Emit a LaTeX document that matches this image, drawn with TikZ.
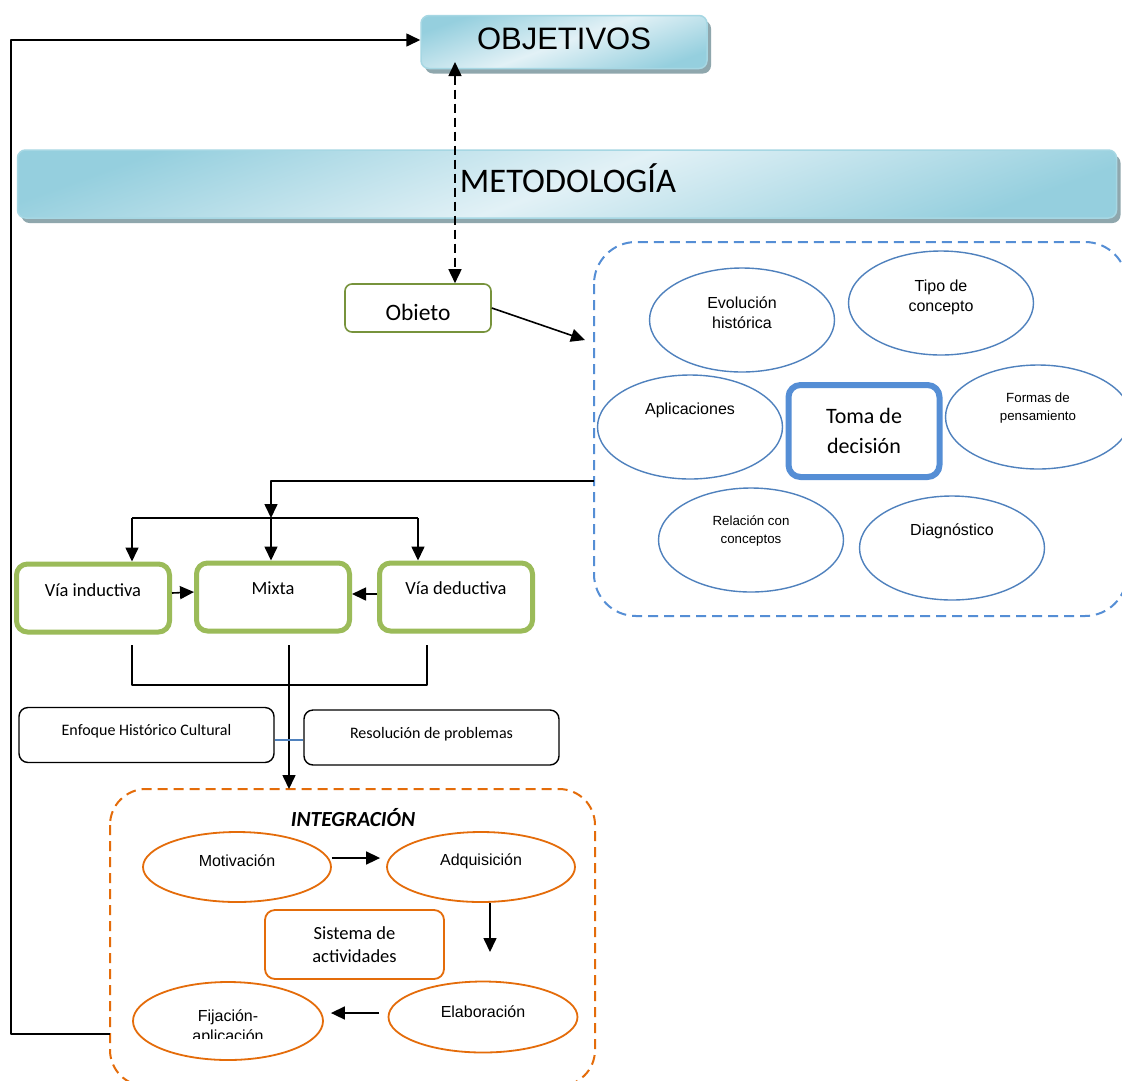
\documentclass[tikz,border=0pt]{standalone}
\usepackage{fontspec}
\setmainfont{Liberation Sans}
\newfontfamily\calfont{Carlito}
\usetikzlibrary{shapes.geometric,arrows.meta,calc,shadows}
\definecolor{ellblue}{HTML}{4F81BD}
\definecolor{boxblue}{HTML}{558ED5}
\definecolor{olivegreen}{HTML}{77933C}
\definecolor{leafgreen}{HTML}{9BBB59}
\definecolor{integorange}{HTML}{E46C0A}
\definecolor{bandlight}{HTML}{E2F1F6}
\definecolor{banddark}{HTML}{95CFDE}
\definecolor{bandedge}{HTML}{A6D7E3}
\definecolor{bandshadow}{HTML}{8FA7AD}
\definecolor{linkblue}{HTML}{4F81BD}
\tikzset{
  banner/.style={rounded corners=8pt, draw=bandedge, line width=1.5pt,
    shading=axis, top color=banddark, bottom color=banddark, middle color=bandlight,
    shading angle=20,
    drop shadow={shadow xshift=4pt, shadow yshift=-5pt, fill=bandshadow, opacity=1}},
  bubble/.style={ellipse, draw=ellblue, line width=1.4pt, minimum width=185pt,
    minimum height=104pt, inner sep=0pt, align=center},
  keybox/.style={rectangle, rounded corners=12pt, draw=boxblue, line width=6pt,
    minimum width=151pt, minimum height=92pt, align=center},
  wayb/.style={rectangle, rounded corners=11pt, draw=leafgreen, line width=5pt,
    minimum width=153pt, minimum height=68pt, align=center},
  objbox/.style={rectangle, rounded corners=7pt, draw=olivegreen, line width=1.6pt,
    minimum width=146pt, minimum height=48pt},
  plainbox/.style={rectangle, rounded corners=9pt, draw=black, line width=1.4pt,
    minimum width=255pt, minimum height=55pt},
  oval/.style={ellipse, draw=integorange, line width=1.8pt, inner sep=0pt,
    minimum width=188pt, minimum height=70pt, align=center},
  conn/.style={draw=black, line width=1.6pt},
  tip/.style={-{Triangle[length=14pt,width=13pt]}},
  duotip/.style={{Triangle[length=14pt,width=13pt]}-{Triangle[length=14pt,width=13pt]}},
  arial/.style={font=\fontsize{16}{20}\selectfont},
  arialsm/.style={font=\fontsize{13.3}{18}\selectfont},
  wayfont/.style={font=\calfont\fontsize{18.5}{20}\selectfont},
  boxfont/.style={font=\calfont\fontsize{16}{18}\selectfont},
}
\begin{document}
\begin{tikzpicture}[x=1pt,y=-1pt,line join=round]
\clip (0,0) rectangle (1122,1080);
\fill[white] (0,0) rectangle (1122,1080);

% ---- title banners ----
\node[banner, minimum width=286pt, minimum height=53pt,
  label={[font=\fontsize{31}{34}\selectfont, yshift=3pt]center:OBJETIVOS}]
  (objetivos) at (564,42) {};
\node[banner, minimum width=1099pt, minimum height=68pt,
  label={[font=\calfont\fontsize{34.5}{38}\selectfont, yshift=6pt, xshift=1pt]center:METODOLOGÍA}]
  (metod) at (567,184) {};

% ---- object of study ----
\node[objbox, label={[font=\calfont\fontsize{23.5}{26}\selectfont, yshift=-4pt]center:Obieto}]
  (obieto) at (418,308) {};

% ---- decision cluster ----
\draw[dashed, dash pattern=on 10pt off 6pt, draw=boxblue, line width=2pt, rounded corners=42pt]
  (594,242) rectangle (1127,616);
\node[bubble, label={[arial, yshift=7pt, align=center]center:Evolución\\histórica}] (evol) at (742,320) {};
\node[bubble, label={[arial, yshift=6pt, align=center]center:Tipo de\\concepto}] (tipo) at (941,303) {};
\node[bubble, label={[arial, yshift=17pt]center:Aplicaciones}] (aplic) at (690,427) {};
\node[bubble, label={[arialsm, yshift=9pt, align=center]center:Formas de\\pensamiento}] (formas) at (1038,417) {};
\node[bubble, label={[arialsm, yshift=9pt, align=center]center:Relación con\\conceptos}] (relac) at (751,540) {};
\node[bubble, label={[arial, yshift=17pt]center:Diagnóstico}] (diagn) at (952,548) {};
\node[keybox, font=\calfont\fontsize{22}{30}\selectfont] (toma) at (864,431) {Toma de\\decisión};

% ---- methodological ways ----
\node[wayb, label={[wayfont, yshift=8pt]center:Vía inductiva}] (vind) at (93,598) {};
\node[wayb, label={[wayfont, yshift=9pt]center:Mixta}] (mixta) at (273,597) {};
\node[wayb, label={[wayfont, yshift=9pt]center:Vía deductiva}] (vded) at (456,597) {};

\node[plainbox, label={[boxfont, yshift=4pt]center:Enfoque Histórico Cultural}] (enfoque) at (146.5,735) {};
\node[plainbox, label={[boxfont, yshift=3pt]center:Resolución de problemas}] (resol) at (431.5,737.5) {};

% ---- integration stage ----
\draw[dashed, dash pattern=on 10pt off 6pt, draw=integorange, line width=2pt, rounded corners=36pt]
  (110,789) rectangle (595,1086);
\node[font=\calfont\bfseries\itshape\fontsize{21.5}{24}\selectfont] (integ) at (353,818) {INTEGRACIÓN};
\node[oval, label={[arial, yshift=6pt]center:Motivación}] (motiv) at (237,867) {};
\node[oval, label={[arial, yshift=6pt]center:Adquisición}] (adq) at (481,867) {};
\node[rectangle, rounded corners=10pt, draw=integorange, line width=1.8pt,
  minimum width=179pt, minimum height=69pt, align=center,
  font=\calfont\fontsize{18.5}{23}\selectfont] (sistema) at (354.5,944.5) {Sistema de\\actividades};
\node[oval, minimum width=190pt, minimum height=78pt,
  label={[arial, yshift=-6pt, align=center]center:Fijación-\\aplicación}] (fij) at (228,1021) {};
% the second line of this label is cut off along its lower edge
\fill[white] (180,1039) rectangle (278,1052);
\node[oval, minimum width=189pt, minimum height=71pt, label={[arial, yshift=5pt]center:Elaboración}] (elab) at (483,1017) {};

% ---- connectors ----
\coordinate (loopstart) at (110,1034);
\coordinate (loopcorner) at (11,40);
\draw[conn, tip] (loopstart) -| (loopcorner) -- (loopcorner -| objetivos.west);

\coordinate (dashtop) at (455,62);
\draw[conn, duotip, dashed, dash pattern=on 9pt off 5pt] (dashtop) -- (dashtop |- obieto.north);

\coordinate (clusterin) at (585,340);
\draw[conn, tip] (obieto.east) -- (clusterin);

\coordinate (branch) at (594,481);
\coordinate (fork) at (271,518);
\draw[conn, tip] (branch) -| (fork);
\coordinate (forkl) at (132,518);
\coordinate (forkr) at (418,518);
\draw[conn] (forkl) -- (forkr);
\draw[conn, tip] (forkl) -- (forkl |- vind.north);
\draw[conn, tip] (fork) -- (fork |- mixta.north);
\draw[conn, tip] (forkr) -- (forkr |- vded.north);

\draw[conn, tip] ([yshift=5pt]vind.east) -- ([yshift=5pt]mixta.west);
\draw[conn, tip] ([yshift=3pt]vded.west) -- ([yshift=3pt]mixta.east);

\coordinate (brl) at (132,645);
\coordinate (brr) at (427,645);
\draw[conn] (brl) -- (132,685) -- (427,685) -- (brr);
\coordinate (stem) at (289,645);
\coordinate (stemend) at (289,789);
\draw[conn, tip] (stem) -- (stemend);

\draw[draw=linkblue, line width=1.5pt] (enfoque.east |- 0,740) -- (resol.west |- 0,740);

\draw[conn, tip] ([yshift=9pt]motiv.east) -- ([yshift=9pt,xshift=-6pt]adq.west);
\coordinate (adqdown) at (490,952);
\draw[conn, tip] (adqdown |- adq.south) -- (adqdown);
\coordinate (elabout) at (379,1013);
\draw[conn, tip] (elabout) -- ([xshift=7pt]elabout -| fij.east);
\end{tikzpicture}
\end{document}
